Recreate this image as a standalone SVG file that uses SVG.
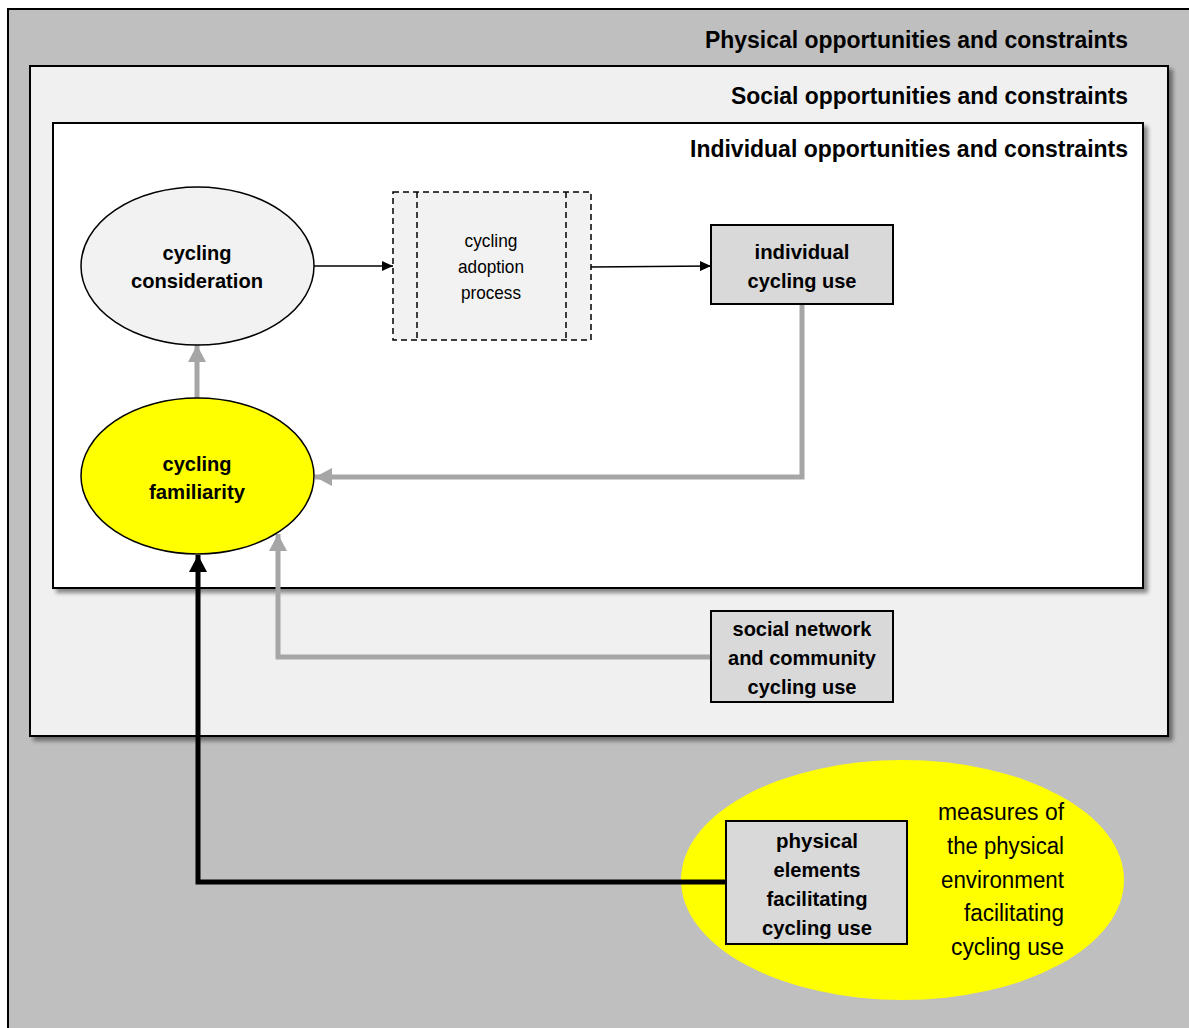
<svg xmlns="http://www.w3.org/2000/svg" width="1189" height="1028" viewBox="0 0 1189 1028">
  <defs>
    <style>
      .frame { stroke: #000; stroke-width: 2; }
      .title { font-family: "Liberation Sans", Arial, sans-serif; font-weight: bold; font-size: 23px; fill: #000; text-anchor: end; }
      .lbl { font-family: "Liberation Sans", Arial, sans-serif; font-weight: bold; font-size: 21px; fill: #000; text-anchor: middle; }
      .reg { font-family: "Liberation Sans", Arial, sans-serif; font-size: 19px; fill: #000; text-anchor: middle; }
      .meas { font-family: "Liberation Sans", Arial, sans-serif; font-size: 23px; fill: #000; text-anchor: end; }
      .box { fill: #d9d9d9; stroke: #000; stroke-width: 2; }
      .thin { fill: none; stroke: #000; stroke-width: 1.5; }
      .grey { fill: none; stroke: #a6a6a6; stroke-width: 5; }
      .black { fill: none; stroke: #000; stroke-width: 5; }
      .dash { fill: none; stroke: #000; stroke-width: 1.5; stroke-dasharray: 6 4; }
    </style>
    <filter id="shadow" x="-5%" y="-5%" width="115%" height="115%">
      <feGaussianBlur in="SourceAlpha" stdDeviation="2"/>
      <feOffset dx="4" dy="4" result="off"/>
      <feComponentTransfer><feFuncA type="linear" slope="0.45"/></feComponentTransfer>
      <feMerge><feMergeNode/><feMergeNode in="SourceGraphic"/></feMerge>
    </filter>
    <marker id="headThin" markerUnits="userSpaceOnUse" markerWidth="12" markerHeight="10" refX="11" refY="5" orient="auto">
      <path d="M0,0 L11,5 L0,10 Z" fill="#000"/>
    </marker>
    <marker id="headGrey" markerUnits="userSpaceOnUse" markerWidth="18" markerHeight="18" refX="17" refY="9" orient="auto">
      <path d="M0,0 L17,9 L0,18 Z" fill="#a6a6a6"/>
    </marker>
    <marker id="headBlack" markerUnits="userSpaceOnUse" markerWidth="18" markerHeight="18" refX="17" refY="9" orient="auto">
      <path d="M0,0 L17,9 L0,18 Z" fill="#000"/>
    </marker>
  </defs>

  <rect width="1189" height="1028" fill="#fff"/>

  <!-- nested context frames -->
  <g id="physical-context">
    <rect class="frame" x="8" y="9" width="1200" height="1040" fill="#bfbfbf"/>
    <text class="title" x="1128" y="48" textLength="423" lengthAdjust="spacingAndGlyphs">Physical opportunities and constraints</text>
  </g>
  <g id="social-context">
    <rect class="frame" x="30" y="66" width="1138" height="670" fill="#f0f0f0" filter="url(#shadow)"/>
    <text class="title" x="1128" y="104" textLength="397" lengthAdjust="spacingAndGlyphs">Social opportunities and constraints</text>
  </g>
  <g id="individual-context">
    <rect class="frame" x="53" y="123" width="1090" height="465" fill="#fff" filter="url(#shadow)"/>
    <text class="title" x="1128" y="157" textLength="438" lengthAdjust="spacingAndGlyphs">Individual opportunities and constraints</text>
  </g>

  <!-- measures ellipse sits behind the physical elements box -->
  <g id="measures">
    <ellipse cx="902.5" cy="880" rx="221.5" ry="120" fill="#ffff00"/>
    <text class="meas" x="1064" y="820" textLength="126" lengthAdjust="spacingAndGlyphs">measures of</text>
    <text class="meas" x="1064" y="854" textLength="117" lengthAdjust="spacingAndGlyphs">the physical</text>
    <text class="meas" x="1064" y="888" textLength="123" lengthAdjust="spacingAndGlyphs">environment</text>
    <text class="meas" x="1064" y="921" textLength="100" lengthAdjust="spacingAndGlyphs">facilitating</text>
    <text class="meas" x="1064" y="955" textLength="113" lengthAdjust="spacingAndGlyphs">cycling use</text>
  </g>

  <!-- connectors -->
  <g id="connectors">
    <line class="thin" x1="314" y1="266" x2="393" y2="266" marker-end="url(#headThin)"/>
    <line class="thin" x1="591" y1="267" x2="711" y2="266" marker-end="url(#headThin)"/>
    <line class="grey" x1="197" y1="398" x2="197" y2="345" marker-end="url(#headGrey)"/>
    <polyline class="grey" points="802,304 802,477 315,477" marker-end="url(#headGrey)"/>
    <polyline class="grey" points="711,657 278,657 278,534" marker-end="url(#headGrey)"/>
    <polyline class="black" points="726,882 198,882 198,555" marker-end="url(#headBlack)"/>
  </g>

  <g id="cycling-consideration">
    <ellipse cx="197.5" cy="266" rx="116.5" ry="79" fill="#f2f2f2" stroke="#000" stroke-width="1.5"/>
    <text class="lbl" x="197" y="260" textLength="69" lengthAdjust="spacingAndGlyphs">cycling</text>
    <text class="lbl" x="197" y="288" textLength="132" lengthAdjust="spacingAndGlyphs">consideration</text>
  </g>

  <g id="cycling-familiarity">
    <ellipse cx="197.5" cy="476" rx="116.5" ry="78" fill="#ffff00" stroke="#000" stroke-width="1.5"/>
    <text class="lbl" x="197" y="471" textLength="69" lengthAdjust="spacingAndGlyphs">cycling</text>
    <text class="lbl" x="197" y="499" textLength="96" lengthAdjust="spacingAndGlyphs">familiarity</text>
  </g>

  <g id="cycling-adoption-process">
    <rect x="393" y="192" width="198" height="148" fill="#f2f2f2"/>
    <rect class="dash" x="393" y="192" width="198" height="148"/>
    <line class="dash" x1="417" y1="192" x2="417" y2="340"/>
    <line class="dash" x1="566" y1="192" x2="566" y2="340"/>
    <text class="reg" x="491" y="247" textLength="53" lengthAdjust="spacingAndGlyphs">cycling</text>
    <text class="reg" x="491" y="273" textLength="66" lengthAdjust="spacingAndGlyphs">adoption</text>
    <text class="reg" x="491" y="299" textLength="60" lengthAdjust="spacingAndGlyphs">process</text>
  </g>

  <g id="individual-cycling-use">
    <rect class="box" x="711" y="225" width="182" height="79"/>
    <text class="lbl" x="802" y="259" textLength="95" lengthAdjust="spacingAndGlyphs">individual</text>
    <text class="lbl" x="802" y="288" textLength="109" lengthAdjust="spacingAndGlyphs">cycling use</text>
  </g>

  <g id="social-network-cycling-use">
    <rect class="box" x="711" y="611" width="182" height="91"/>
    <text class="lbl" x="802" y="636" textLength="139" lengthAdjust="spacingAndGlyphs">social network</text>
    <text class="lbl" x="802" y="665" textLength="148" lengthAdjust="spacingAndGlyphs">and community</text>
    <text class="lbl" x="802" y="694" textLength="109" lengthAdjust="spacingAndGlyphs">cycling use</text>
  </g>

  <g id="physical-elements">
    <rect class="box" x="726" y="821" width="181" height="123"/>
    <text class="lbl" x="817" y="848" textLength="82" lengthAdjust="spacingAndGlyphs">physical</text>
    <text class="lbl" x="817" y="877" textLength="87" lengthAdjust="spacingAndGlyphs">elements</text>
    <text class="lbl" x="817" y="906" textLength="101" lengthAdjust="spacingAndGlyphs">facilitating</text>
    <text class="lbl" x="817" y="935" textLength="110" lengthAdjust="spacingAndGlyphs">cycling use</text>
  </g>
</svg>
